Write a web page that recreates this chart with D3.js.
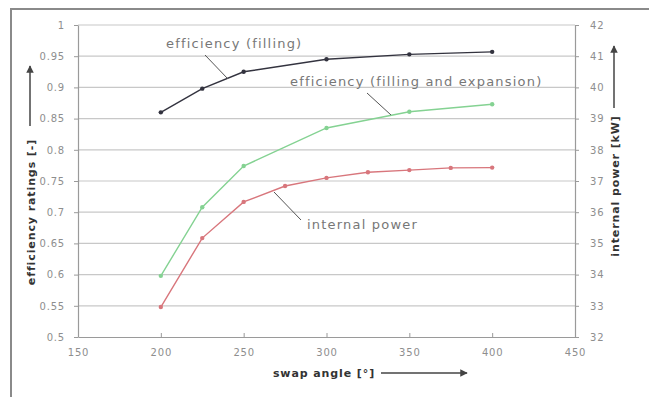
<!DOCTYPE html>
<html>
<head>
<meta charset="utf-8">
<script src="https://cdn.jsdelivr.net/npm/d3@7"></script>
<style>
  body { margin: 0; background: #fff; }
  text { font-family: "DejaVu Sans", sans-serif; }
</style>
</head>
<body>
<div id="chart"></div>
<script>
// data
var fillingAngle = [200, 225, 250, 300, 350, 400];
var fillingEff = [0.86, 0.898, 0.925, 0.945, 0.953, 0.957];

var expansionAngle = [200, 225, 250, 300, 350, 400];
var expansionEff = [0.598, 0.708, 0.774, 0.835, 0.861, 0.873];

var powerAngle = [200, 225, 250, 275, 300, 325, 350, 375, 400];
var powerKW = [32.96, 35.17, 36.33, 36.84, 37.1, 37.28, 37.35, 37.42, 37.43];

var xTicks = [150, 200, 250, 300, 350, 400, 450];
var leftTicks = [0.5, 0.55, 0.6, 0.65, 0.7, 0.75, 0.8, 0.85, 0.9, 0.95, 1];
var rightTicks = [32, 33, 34, 35, 36, 37, 38, 39, 40, 41, 42];

var width = 649, height = 397;
var plotL = 78, plotR = 575, plotT = 25, plotB = 337;

var svg = d3.select("#chart").append("svg")
    .attr("width", width)
    .attr("height", height);

// outer frame (only top and left visible in the picture)
svg.append("path")
    .attr("d", "M11,400 L11,9 L649,9")
    .attr("fill", "none")
    .attr("stroke", "#8a8a8a")
    .attr("stroke-width", 2);

var x = d3.scaleLinear().domain([150, 450]).range([plotL, plotR]);
var y = d3.scaleLinear().domain([0.5, 1]).range([plotB, plotT]);
var yPow = d3.scaleLinear().domain([32, 42]).range([plotB, plotT]);

// grid
svg.append("g").selectAll("line")
    .data(leftTicks.slice(1))
    .enter().append("line")
    .attr("x1", plotL).attr("x2", plotR)
    .attr("y1", function(d) { return y(d); })
    .attr("y2", function(d) { return y(d); })
    .attr("stroke", "#c8c8c8")
    .attr("stroke-width", 1.2);

var tickColor = "#9a9a9a";

var xAxis = svg.append("g")
    .attr("transform", "translate(0," + plotB + ")")
    .call(d3.axisBottom(x).tickValues(xTicks).tickSizeInner(-4).tickSizeOuter(0).tickPadding(12));

var yAxis = svg.append("g")
    .attr("transform", "translate(" + plotL + ",0)")
    .call(d3.axisLeft(y).tickValues(leftTicks).tickSizeInner(4).tickSizeOuter(0).tickPadding(9)
        .tickFormat(function(d) { return String(+d.toFixed(2)); }));

var yPowAxis = svg.append("g")
    .attr("transform", "translate(" + plotR + ",0)")
    .call(d3.axisRight(yPow).tickValues(rightTicks).tickSizeInner(4).tickSizeOuter(0).tickPadding(11));

[xAxis, yAxis, yPowAxis].forEach(function(a) {
    a.select(".domain").attr("stroke", tickColor).attr("stroke-width", 1.2);
    a.selectAll(".tick line").attr("stroke", tickColor);
    a.selectAll(".tick text").attr("fill", "#8e8e8e").style("font-size", "10px")
        .style("letter-spacing", "0.8px")
        .style("font-family", "'DejaVu Sans', sans-serif");
});

// series
function drawSeries(xs, ys, scale, color) {
    var pts = xs.map(function(d, i) { return [x(d), scale(ys[i])]; });
    svg.append("path")
        .attr("d", d3.line()(pts))
        .attr("fill", "none")
        .attr("stroke", color)
        .attr("stroke-width", 1.4);
    svg.append("g").selectAll("circle")
        .data(pts)
        .enter().append("circle")
        .attr("cx", function(d) { return d[0]; })
        .attr("cy", function(d) { return d[1]; })
        .attr("r", 2.2)
        .attr("fill", color);
}

drawSeries(powerAngle, powerKW, yPow, "#d8767c");
drawSeries(expansionAngle, expansionEff, y, "#84d292");
drawSeries(fillingAngle, fillingEff, y, "#33333f");

// annotations
var annoColor = "#777";
function annotate(txt, tx, ty, x1, y1, x2, y2) {
    svg.append("text").attr("x", tx).attr("y", ty)
        .attr("fill", annoColor).style("font-size", "13px")
        .style("letter-spacing", "1.2px").text(txt);
    svg.append("line").attr("x1", x1).attr("y1", y1).attr("x2", x2).attr("y2", y2)
        .attr("stroke", "#555").attr("stroke-width", 1);
}
annotate("efficiency (filling)", 166, 48, 205, 55, 228, 79);
annotate("efficiency (filling and expansion)", 290, 86, 367, 93, 391, 115);
annotate("internal power", 307, 229, 301, 220, 274, 192);

// axis titles
var titleColor = "#333";
function title(txt, tx, ty, rot) {
    svg.append("text")
        .attr("transform", "translate(" + tx + "," + ty + ")" + (rot ? " rotate(-90)" : ""))
        .attr("text-anchor", "middle")
        .attr("fill", titleColor)
        .style("font-size", "11px").style("font-weight", "bold")
        .style("letter-spacing", "0.9px")
        .text(txt);
}
title("efficiency ratings [-]", 35, 212, true);
title("internal power [kW]", 619, 186, true);
title("swap angle [°]", 324, 377, false);

// arrows
svg.append("defs").append("marker")
    .attr("id", "arr")
    .attr("viewBox", "0 0 10 10")
    .attr("refX", 9).attr("refY", 5)
    .attr("markerWidth", 5).attr("markerHeight", 5)
    .attr("orient", "auto")
    .append("path").attr("d", "M0,0 L10,5 L0,10 Z").attr("fill", "#444");

function arrow(x1, y1, x2, y2) {
    svg.append("line").attr("x1", x1).attr("y1", y1).attr("x2", x2).attr("y2", y2)
        .attr("stroke", "#444").attr("stroke-width", 1.5)
        .attr("marker-end", "url(#arr)");
}
arrow(30, 126, 30, 66);
arrow(614, 108, 614, 46);
arrow(381, 373, 467, 373);
</script>
</body>
</html>
